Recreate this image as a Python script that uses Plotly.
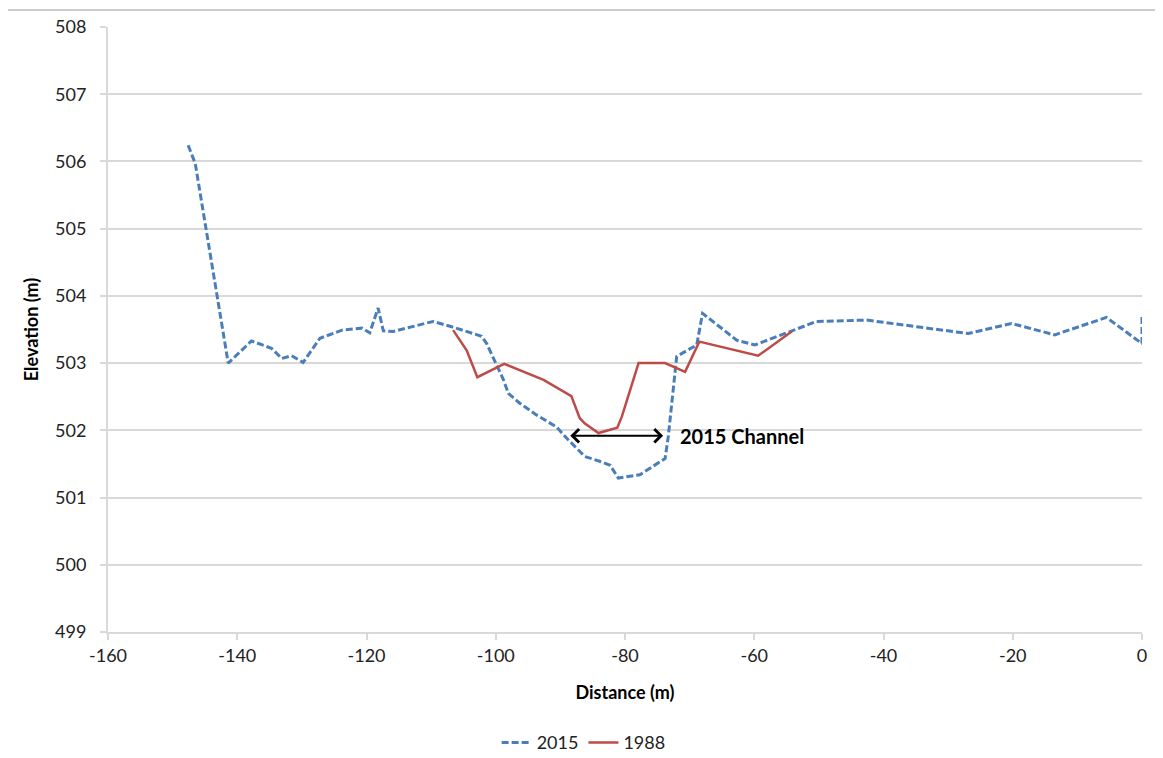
import plotly.graph_objects as go

x2015 = [-147.6, -146.5, -141.4, -137.8, -134.7, -133.1, -131.6, -129.8, -127.2, -123.8,
         -120.7, -119.5, -118.2, -117.4, -115.9, -109.7, -106.8, -102.2, -101.4, -98.8,
         -98.05, -96.25, -93.7, -90.6, -88.8, -86.2, -83.6, -82.3, -81.04, -77.7,
         -73.8, -73.3, -72.0, -68.9, -68.0, -62.7, -59.9, -54.5, -50.35, -42.6,
         -26.9, -20.2, -13.5, -5.5, 0, 0]
y2015 = [506.24, 505.97, 503.0, 503.33, 503.22, 503.07, 503.11, 503.01, 503.37, 503.49,
         503.52, 503.45, 503.82, 503.48, 503.47, 503.62, 503.54, 503.40, 503.29, 502.75,
         502.55, 502.40, 502.23, 502.05, 501.86, 501.61, 501.53, 501.48, 501.29, 501.34,
         501.58, 501.91, 503.10, 503.27, 503.74, 503.34, 503.27, 503.47, 503.62, 503.64,
         503.44, 503.59, 503.42, 503.68, 503.29, 503.69]

x1988 = [-106.6, -104.5, -102.85, -98.7, -92.6, -88.3, -87.0, -86.2, -84.1, -81.2,
         -80.5, -77.9, -73.8, -70.7, -68.5, -59.4, -54.2]
y1988 = [503.49, 503.19, 502.79, 502.99, 502.75, 502.51, 502.18, 502.10, 501.96, 502.04,
         502.20, 503.00, 503.00, 502.87, 503.32, 503.11, 503.47]

x_tickvals = [-160, -140, -120, -100, -80, -60, -40, -20, 0]
x_ticktext = ["-160", "-140", "-120", "-100", "-80", "-60", "-40", "-20", "0"]
y_tickvals = [499, 500, 501, 502, 503, 504, 505, 506, 507, 508]

channel_x = [-88.7, -74.1]
channel_y = 501.92
channel_label = "2015 Channel"

FONT = "Lato, 'Open Sans', sans-serif"
GRID = "#d9d9d9"

fig = go.Figure()
fig.add_trace(go.Scatter(x=x2015, y=y2015, mode="lines", name="2015",
                         line=dict(color="#4a7ebb", width=3, dash="7px,3px")))
fig.add_trace(go.Scatter(x=x1988, y=y1988, mode="lines", name="1988",
                         line=dict(color="#be4b48", width=2.5)))

fig.add_annotation(x=channel_x[1], y=channel_y, ax=channel_x[0], ay=channel_y,
                   xref="x", yref="y", axref="x", ayref="y", text="",
                   showarrow=True, arrowhead=4, startarrowhead=4, arrowside="end+start",
                   arrowsize=1.3, startarrowsize=1.3, arrowwidth=2, arrowcolor="#000000")
fig.add_annotation(x=channel_x[1] + 2.3, y=channel_y, xref="x", yref="y",
                   text="<b>" + channel_label + "</b>", showarrow=False,
                   xanchor="left", yanchor="middle",
                   font=dict(family=FONT, size=20, color="#000000"))

# chart-area top border
fig.add_shape(type="line", xref="paper", yref="paper", x0=-0.1, x1=1.02,
              y0=1.028, y1=1.028, layer="above", line=dict(color="#cccccc", width=2))

fig.update_layout(
    width=1155, height=750,
    margin=dict(l=100, r=21, t=19, b=126, autoexpand=False),
    paper_bgcolor="white", plot_bgcolor="white",
    font=dict(family=FONT, size=18, color="#222222"),
    showlegend=True,
    legend=dict(orientation="h", x=0.46, xanchor="center", y=-0.183, yanchor="middle",
                font=dict(size=18, color="#222222")),
)
fig.update_xaxes(range=[-160, 0], tickvals=x_tickvals, ticktext=x_ticktext,
                 showgrid=False, zeroline=False,
                 showline=True, linecolor=GRID, linewidth=2, ticks="outside", ticklen=6,
                 tickcolor=GRID, tickwidth=1.5,
                 title=dict(text="<b>Distance (m)</b>", standoff=22,
                            font=dict(size=18, color="#000000")))
fig.update_yaxes(range=[499, 508], tickvals=y_tickvals, showgrid=True, gridcolor=GRID, gridwidth=2,
                 zeroline=False, showline=True, linecolor=GRID, linewidth=2,
                 ticks="outside", ticklen=6, tickcolor=GRID, tickwidth=1.5,
                 ticklabelstandoff=10,
                 title=dict(text="<b>Elevation (m)</b>", standoff=12,
                            font=dict(size=18, color="#000000")))

fig.write_html("out.html")
